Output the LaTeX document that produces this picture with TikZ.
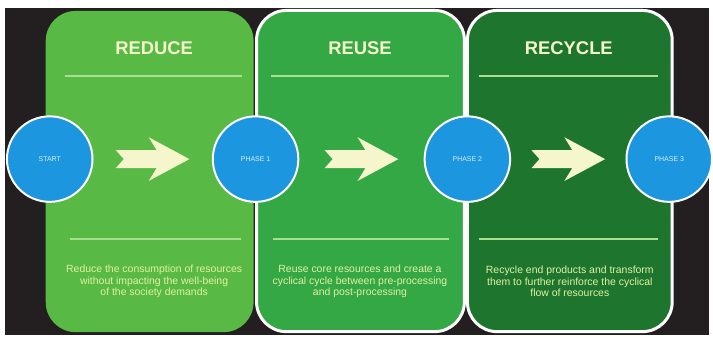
\documentclass[tikz,border=0pt]{standalone}
\usepackage{fontspec}
\setmainfont{Liberation Sans}
\usetikzlibrary{positioning,calc}

\definecolor{bgdark}{RGB}{35,31,32}
\definecolor{reduceg}{RGB}{88,186,68}
\definecolor{reuseg}{RGB}{52,168,68}
\definecolor{recycleg}{RGB}{30,118,46}
\definecolor{phaseblue}{RGB}{28,150,222}
\definecolor{rulegreen}{RGB}{170,222,145}
\definecolor{cream}{RGB}{246,246,205}
\definecolor{bodytext}{RGB}{226,240,165}

\begin{document}
\begin{tikzpicture}[x=1pt,y=-1pt,
        panel/.style={rounded corners=30pt,minimum width=209pt,minimum height=323pt,inner sep=0pt},
        phase/.style={circle,draw=white,line width=2pt,fill=phaseblue,minimum size=86pt,inner sep=0pt,text=white!85!phaseblue,font=\fontsize{7}{8}\selectfont},
        heading/.style={text=cream,font=\fontsize{18.5}{22}\selectfont\bfseries},
        blurb/.style={align=center,text=bodytext,font=\fontsize{10.5}{11.5}\selectfont},
        rule/.style={rulegreen,line width=2pt}]
        \fill[white] (0,0) rectangle (713,339);
        \fill[bgdark] (5,8) rectangle (713,337);
        % the three stages
        \node[panel,fill=reduceg] (reduce) at (150.5,172.5) {};
        \node[panel,fill=reuseg,draw=white,line width=3pt] (reuse) at (362.5,172) {};
        \node[panel,fill=recycleg,draw=white,line width=3pt,minimum width=206pt] (recycle) at (573,172) {};
        \node[heading] (reducetitle) at (155,48) {REDUCE};
        \node[heading] (reusetitle) at (362,48) {REUSE};
        \node[heading] (recycletitle) at (572,48) {RECYCLE};
        \draw[rule] (65,76) -- (243,76);
        \draw[rule] (273,76) -- (452,76);
        \draw[rule] (482,76) -- (662,76);
        \draw[rule] (70,240) -- (242,240);
        \draw[rule] (275,240) -- (452,240);
        \draw[rule] (482,240) -- (662,240);
        \node[blurb] (reducetext) at (155,283) {Reduce the consumption of resources\\without impacting the well-being\\of the society demands};
        \node[blurb] (reusetext) at (362,283) {Reuse core resources and create a\\cyclical cycle between pre-processing\\and post-processing};
        \node[blurb] (recycletext) at (573,283) {Recycle end products and transform\\them to further reinforce the cyclical\\flow of resources};
        % phases on the borders
        \node[phase] (start) at (50,160) {START};
        \node[phase] (ph1) at (257,160) {PHASE 1};
        \node[phase] (ph2) at (470,160) {PHASE 2};
        \node[phase] (ph3) at (673,160) {PHASE 3};
        \coordinate (a1) at ($(start)!0.5!(ph1)$);
        \coordinate (a2) at ($(ph1)!0.5!(ph2)$);
        \coordinate (a3) at ($(ph2)!0.5!(ph3)$);
        \fill[cream,shift={(a1)}] (-37,-9) -- (4,-9) -- (-4,-22) -- (37,0) -- (-4,22) -- (4,9) -- (-37,9) -- (-29,0) -- cycle;
        \fill[cream,shift={(a2)}] (-37,-9) -- (4,-9) -- (-4,-22) -- (37,0) -- (-4,22) -- (4,9) -- (-37,9) -- (-29,0) -- cycle;
        \fill[cream,shift={(a3)}] (-37,-9) -- (4,-9) -- (-4,-22) -- (37,0) -- (-4,22) -- (4,9) -- (-37,9) -- (-29,0) -- cycle;
    \end{tikzpicture}
\end{document}
